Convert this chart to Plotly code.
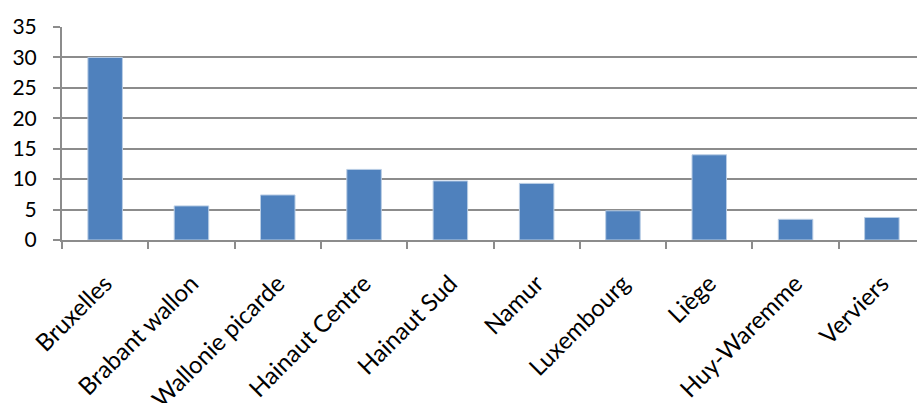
import plotly.graph_objects as go

categories = ["Bruxelles", "Brabant wallon", "Wallonie picarde", "Hainaut Centre",
              "Hainaut Sud", "Namur", "Luxembourg", "Liège", "Huy-Waremme", "Verviers"]
values = [30.0, 5.6, 7.4, 11.6, 9.7, 9.3, 4.8, 14.0, 3.4, 3.7]
y_ticks = [0, 5, 10, 15, 20, 25, 30, 35]

fig = go.Figure()
fig.add_trace(go.Bar(
    x=categories, y=values,
    marker=dict(color="#4F81BD", line=dict(color="#B9CDE5", width=1)),
    width=0.4,
))

grid = "#8C8C8C"
fig.update_layout(
    width=917, height=403,
    margin=dict(l=62, r=0, t=27, b=163),
    paper_bgcolor="white", plot_bgcolor="white",
    showlegend=False,
    font=dict(family="Lato, Open Sans, sans-serif", size=20, color="black"),
    xaxis=dict(
        type="category",
        range=[-0.5, 9.407],
        tickson="boundaries",
        ticks="outside", ticklen=7, tickwidth=2, tickcolor=grid,
        showgrid=False,
        showline=True, linecolor=grid, linewidth=2,
        tickangle=-45,
        tickfont=dict(size=24),
        ticklabelstandoff=18,
        automargin=False,
    ),
    yaxis=dict(
        range=[0, 35],
        tickvals=y_ticks,
        ticks="outside", ticklen=7, tickwidth=2, tickcolor=grid,
        showgrid=True, gridcolor=grid, gridwidth=2,
        showline=True, linecolor=grid, linewidth=2,
        zeroline=False,
        tickfont=dict(size=21),
        ticklabelstandoff=12,
        automargin=False,
    ),
)

fig.write_html("out.html")
